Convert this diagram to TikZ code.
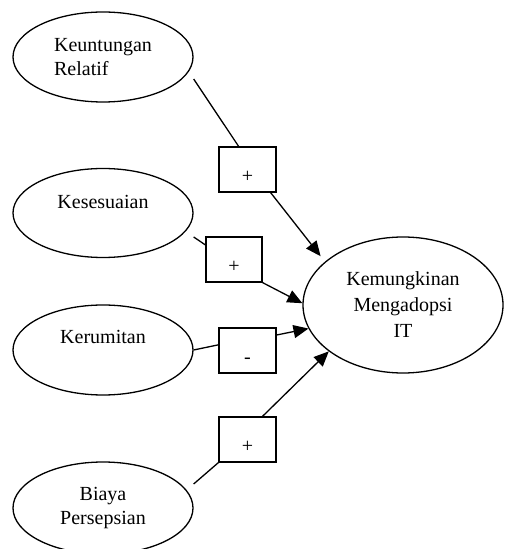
\documentclass[tikz,border=0pt]{standalone}
\usepackage{fontspec}
\setmainfont{Liberation Serif}
\usetikzlibrary{arrows.meta,shapes.geometric}

\begin{document}
\begin{tikzpicture}[x=1pt,y=1pt,
    faktor/.style={draw,ellipse,line width=1.3pt,minimum width=180pt,
        minimum height=90pt,inner sep=0pt,font=\fontsize{20}{24}\selectfont},
    tanda/.style={draw,rectangle,line width=1.3pt,minimum width=57pt,
        minimum height=45pt,inner sep=0pt,text height=26pt,text depth=0pt,
        font=\fontsize{20}{24}\selectfont},
    garis/.style={line width=1.3pt},
    panah/.style={line width=1.3pt,-{Triangle[length=15pt,width=13pt]}}]

    % Frame
    \useasboundingbox (0,0) rectangle (504,549);

    % Factors
    \node[faktor,align=left] (untung) at (103,492) {Keuntungan\\Relatif};
    \node[faktor,minimum height=89pt,text height=14pt,text depth=22.5pt] (sesuai) at (103,336) {Kesesuaian};
    \node[faktor,text height=14pt,text depth=27.5pt] (rumit) at (103,199) {Kerumitan};
    \node[faktor,minimum height=92pt,align=center] (biaya) at (103,41) {Biaya\\Persepsian};

    % Outcome
    \node[faktor,minimum width=200pt,minimum height=136pt,align=center,
        font=\fontsize{20}{26}\selectfont] (adopsi) at (403,244) {Kemungkinan\\Mengadopsi\\IT};

    % Signs
    \node[tanda] (tUntung) at (247.5,379.5) {+};
    \node[tanda,minimum width=56pt] (tSesuai) at (234,289.5) {+};
    \node[tanda] (tRumit) at (247.5,198.5) {-};
    \node[tanda] (tBiaya) at (247.5,109.5) {+};

    % Links
    \draw[garis] (untung.east) ++(0,-22) -- (tUntung.111);
    \draw[panah,shorten >=7pt] (tUntung.-45) -- (adopsi.151);

    \draw[garis] (sesuai.east) ++(0,-24) -- (tSesuai.153);
    \draw[panah] (tSesuai.south east) -- (adopsi.179);

    \draw[garis] (rumit.east) -- (tRumit.169);
    \draw[panah] (tRumit.28) -- (adopsi.194);

    \draw[garis] (biaya.east) ++(0,24) -- (tBiaya.south west);
    \draw[panah] (tBiaya.57) -- (adopsi.212);
\end{tikzpicture}
\end{document}
